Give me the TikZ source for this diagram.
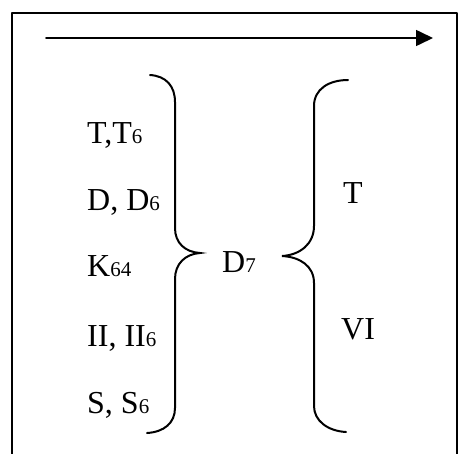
\documentclass[tikz,border=0pt]{standalone}
\usepackage{fontspec}
\setmainfont{Liberation Serif}
\usetikzlibrary{arrows.meta}
\newcommand\dg[1]{{\fontsize{21}{21}\selectfont #1}}
\tikzset{
  lbl/.style={anchor=base west, inner sep=0pt, font=\fontsize{32}{32}\selectfont},
  ln/.style={line width=1.6pt, line cap=round, line join=round},
  brace/.style={line width=2pt, line cap=round}
}
\begin{document}
\begin{tikzpicture}[x=1pt,y=-1pt]
\useasboundingbox (0,0) rectangle (460,453);
% frame (bottom edge cut off)
\coordinate (f1) at (12,460);
\coordinate (f2) at (12,13);
\coordinate (f3) at (457,13);
\coordinate (f4) at (457,460);
\draw[ln] (f1) -- (f2) -- (f3) -- (f4);
% arrow
\coordinate (a1) at (46,38);
\coordinate (a2) at (433,38);
\draw[ln, -{Triangle[length=17pt,width=16pt]}] (a1) -- (a2);
% left column
\node[lbl] (t1) at (87,143) {T,T\dg{6}};
\node[lbl] (t2) at (87,210) {D, D\dg{6}};
\node[lbl] (t3) at (87,276) {K\dg{64}};
\node[lbl] (t4) at (87,346) {II, II\dg{6}};
\node[lbl] (t5) at (87,413) {S, S\dg{6}};
% centre
\node[lbl] (d7) at (222,272) {D\dg{7}};
% right column
\node[lbl] (rt) at (343,203) {T};
\node[lbl] (rv) at (341,339) {VI};
% left brace
\coordinate (lb1) at (150,75);
\coordinate (lbt) at (200,253);
\coordinate (lb2) at (147,433);
\draw[brace] (lb1) .. controls (166,76) and (175,86) .. (175,102) -- (175,228)
  .. controls (175,243) and (185,252) .. (lbt)
  .. controls (185,254) and (175,264) .. (175,279) -- (175,408)
  .. controls (175,423) and (164,432) .. (lb2);
% right brace
\coordinate (rb1) at (348,80);
\coordinate (rbt) at (282,256);
\coordinate (rb2) at (346,432);
\draw[brace] (rb1) .. controls (329,80) and (314,89) .. (314,106) -- (314,226)
  .. controls (314,244) and (300,255) .. (rbt)
  .. controls (300,257) and (314,266) .. (314,283) -- (314,406)
  .. controls (314,421) and (328,431) .. (rb2);
\end{tikzpicture}
\end{document}
